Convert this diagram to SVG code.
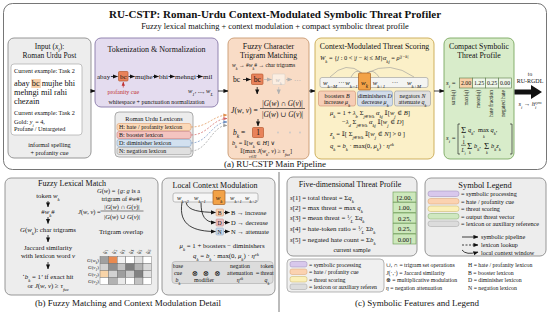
<svg xmlns="http://www.w3.org/2000/svg" width="550" height="312" viewBox="0 0 550 312">
<defs>
<style>
.f{font-family:"Liberation Serif","DejaVu Serif",serif;fill:#111}
.i{font-style:italic}
.c{text-anchor:middle}
.e{text-anchor:end}
.b{font-weight:bold}
.sb{baseline-shift:sub;font-size:72%}
.sp{baseline-shift:super;font-size:72%}
.box{stroke-width:0.9}
.gray{fill:#ededed;stroke:#8c8c8c}
.ln{fill:none;stroke:#111;stroke-width:0.8}
</style>
<marker id="ah" viewBox="0 0 6 6" refX="5.5" refY="3" markerWidth="5" markerHeight="5" orient="auto" markerUnits="userSpaceOnUse"><path d="M0,0.5 L6,3 L0,5.5z" fill="#111"/></marker>
<marker id="ahg" viewBox="0 0 6 6" refX="5.5" refY="3" markerWidth="5" markerHeight="5" orient="auto" markerUnits="userSpaceOnUse"><path d="M0,0.5 L6,3 L0,5.5z" fill="#b0b0b0"/></marker>
<marker id="ahr" viewBox="0 0 6 6" refX="5.5" refY="3" markerWidth="4" markerHeight="4" orient="auto" markerUnits="userSpaceOnUse"><path d="M0,0.5 L6,3 L0,5.5z" fill="#c03030"/></marker>
<marker id="ahO" viewBox="0 0 6 6" refX="5.5" refY="3" markerWidth="4" markerHeight="4" orient="auto" markerUnits="userSpaceOnUse"><path d="M0,0.5 L6,3 L0,5.5z" fill="#e0904f"/></marker>
<marker id="ahR" viewBox="0 0 6 6" refX="5.5" refY="3" markerWidth="4" markerHeight="4" orient="auto" markerUnits="userSpaceOnUse"><path d="M0,0.5 L6,3 L0,5.5z" fill="#d06464"/></marker>
<marker id="ahB" viewBox="0 0 6 6" refX="5.5" refY="3" markerWidth="4" markerHeight="4" orient="auto" markerUnits="userSpaceOnUse"><path d="M0,0.5 L6,3 L0,5.5z" fill="#6f8fc0"/></marker>
<marker id="ahN" viewBox="0 0 6 6" refX="5.5" refY="3" markerWidth="4" markerHeight="4" orient="auto" markerUnits="userSpaceOnUse"><path d="M0,0.5 L6,3 L0,5.5z" fill="#9a9a9a"/></marker>
</defs>
<rect width="550" height="312" fill="#fff"/>

<!-- top panel frame -->
<rect x="3.5" y="3.5" width="543" height="166" rx="9" fill="#fff" stroke="#666" stroke-width="0.9"/>
<text x="275" y="18" class="f c b" font-size="11">RU-CSTP: Roman-Urdu Context-Modulated Symbolic Threat Profiler</text>
<text x="275" y="28.5" class="f c" font-size="8.4">Fuzzy lexical matching + context modulation + compact symbolic threat profile</text>

<!-- Input -->
<g id="input">
<rect x="8" y="38" width="83" height="120" rx="6" class="box gray"/>
<text x="49.5" y="49" class="f c" font-size="7.5">Input (<tspan class="i">x</tspan><tspan class="i sb">i</tspan>):</text>
<text x="49.5" y="58" class="f c" font-size="7.5">Roman Urdu Post</text>
<rect x="11" y="64" width="71" height="71" rx="3" fill="#fff" stroke="#aaa" stroke-width="0.7"/>
<text x="14" y="73" class="f" font-size="6.2">Current example: Task 2</text>
<rect x="31.3" y="79" width="9.5" height="9" fill="#f8cfa8"/>
<text x="14" y="86" class="f" font-size="8.3">abay bc mujhe bhi</text>
<text x="14" y="95" class="f" font-size="8.3">mehngi mil rahi</text>
<text x="14" y="104" class="f" font-size="8.3">chezain</text>
<text x="14" y="115" class="f" font-size="6.2">Current example: Task 2</text>
<text x="14" y="123.5" class="f" font-size="6.2">Gold: <tspan class="i">y</tspan><tspan class="i sb">i</tspan> = 4,</text>
<text x="14" y="131" class="f" font-size="6.2">Profane / Untargeted</text>
<text x="49.5" y="147" class="f c" font-size="6.2">informal spelling</text>
<text x="49.5" y="155" class="f c" font-size="6.2">+ profanity cue</text>
</g>

<!-- Tokenization -->
<g id="tokenize">
<rect x="95" y="38" width="123" height="69" rx="6" class="box" fill="#e4dcef" stroke="#8878a8"/>
<text x="156.5" y="52" class="f c" font-size="8">Tokenization &amp; Normalization</text>
<text x="97" y="79" class="f" font-size="7">abay</text>
<line x1="111" y1="76.5" x2="117.5" y2="76.5" class="ln" marker-end="url(#ah)"/>
<rect x="118.5" y="71.5" width="9.5" height="9.5" rx="1" fill="#e8825a" stroke="#b85a30" stroke-width="0.7"/>
<text x="123.3" y="79" class="f c" font-size="7">bc</text>
<line x1="128.5" y1="76.5" x2="134.5" y2="76.5" class="ln" marker-end="url(#ah)"/>
<text x="135" y="79" class="f" font-size="7">mujhe</text>
<line x1="153" y1="76.5" x2="158.5" y2="76.5" class="ln" marker-end="url(#ah)"/>
<text x="159" y="79" class="f" font-size="7">bhi</text>
<line x1="168.5" y1="76.5" x2="174.5" y2="76.5" class="ln" marker-end="url(#ah)"/>
<text x="175" y="79" class="f" font-size="7">mehngi</text>
<line x1="196.5" y1="76.5" x2="202.5" y2="76.5" class="ln" marker-end="url(#ah)"/>
<text x="203" y="79" class="f" font-size="7">mil</text>
<line x1="123.3" y1="87.5" x2="123.3" y2="82" stroke="#c03030" stroke-width="0.7" marker-end="url(#ahr)"/>
<text x="123.3" y="93.5" class="f c" font-size="6" style="fill:#c03030">profanity cue</text>
<text x="213" y="93" class="f e i" font-size="6.5">w<tspan class="sb">1</tspan>, ..., w<tspan class="sb">L</tspan></text>
<text x="156.5" y="103.5" class="f c" font-size="6">whitespace + punctuation normalization</text>
</g>

<!-- Lexicons -->
<g id="lexicons">
<rect x="115" y="112" width="78" height="45" rx="4" fill="#ececec" stroke="#999" stroke-width="0.8"/>
<text x="154" y="120.5" class="f c" font-size="6.3">Roman Urdu Lexicons</text>
<rect x="117" y="123.5" width="74" height="7" rx="2" fill="#fbd9b8" stroke="#e0a070" stroke-width="0.6"/>
<rect x="117" y="131.5" width="74" height="7" rx="2" fill="#f4c4c0" stroke="#d08080" stroke-width="0.6"/>
<rect x="117" y="139.5" width="74" height="7" rx="2" fill="#d2e0ef" stroke="#8aa8c8" stroke-width="0.6"/>
<rect x="117" y="147.5" width="74" height="7" rx="2" fill="#e0e0e0" stroke="#a0a0a0" stroke-width="0.6"/>
<text x="119" y="129" class="f" font-size="6">H: hate / profanity lexicon</text>
<text x="119" y="137" class="f" font-size="6">B: booster lexicon</text>
<text x="119" y="145" class="f" font-size="6">D: diminisher lexicon</text>
<text x="119" y="153" class="f" font-size="6">N: negation lexicon</text>
</g>

<!-- Fuzzy char trigram -->
<g id="fuzzy">
<rect x="228" y="38" width="81" height="121" rx="6" class="box" fill="#f9dcc6" stroke="#c89870"/>
<text x="268.5" y="48.5" class="f c" font-size="7.8">Fuzzy Character</text>
<text x="268.5" y="57.5" class="f c" font-size="7.8">Trigram Matching</text>
<text x="232" y="67" class="f" font-size="5.6"><tspan class="i">w</tspan><tspan class="i sb">k</tspan> → #<tspan class="i">w</tspan><tspan class="i sb">k</tspan># → char trigrams</text>
<text x="233" y="82" class="f" font-size="7.5">bc</text>
<line x1="243" y1="79.5" x2="250.5" y2="79.5" class="ln" marker-end="url(#ah)"/>
<rect x="251.5" y="74" width="11.5" height="10.5" rx="1" fill="#e8825a" stroke="#b85a30" stroke-width="0.7"/>
<text x="257.2" y="82" class="f c" font-size="7.5">bc</text>
<line x1="264" y1="79.5" x2="271.5" y2="79.5" stroke="#b8b8b8" stroke-width="0.8" marker-end="url(#ahg)"/>
<rect x="272.5" y="74" width="12.5" height="10.5" rx="1" fill="#fbeee2" stroke="#d8d0c8" stroke-width="0.6"/>
<text x="278.7" y="81.5" class="f c i" font-size="6.5" style="fill:#bbb">w<tspan class="sb">k</tspan></text>
<line x1="286" y1="79.5" x2="292" y2="79.5" stroke="#b8b8b8" stroke-width="0.8" marker-end="url(#ahg)"/>
<text x="294" y="81" class="f" font-size="7" style="fill:#aaa">…</text>
<line x1="257.2" y1="87" x2="257.2" y2="94" class="ln" marker-end="url(#ah)"/>
<line x1="278.7" y1="87" x2="278.7" y2="94" stroke="#c0c0c0" stroke-width="0.8" marker-end="url(#ahg)"/>
<text x="231" y="112.5" class="f i" font-size="7.5">J</text><text x="234.5" y="112.5" class="f" font-size="7.5">(<tspan class="i">w</tspan>, <tspan class="i">v</tspan>) =</text>
<text x="282.5" y="106" class="f c" font-size="7.3">|<tspan class="i">G</tspan>(<tspan class="i">w</tspan>) ∩ <tspan class="i">G</tspan>(<tspan class="i">v</tspan>)|</text>
<line x1="260" y1="108.5" x2="305" y2="108.5" stroke="#111" stroke-width="0.6"/>
<text x="282.5" y="116.5" class="f c" font-size="7.3">|<tspan class="i">G</tspan>(<tspan class="i">w</tspan>) ∪ <tspan class="i">G</tspan>(<tspan class="i">v</tspan>)|</text>
<line x1="258" y1="119" x2="258" y2="126" class="ln" marker-end="url(#ah)"/>
<text x="233" y="135" class="f" font-size="7.5"><tspan class="i">b</tspan><tspan class="i sb">k</tspan> =</text>
<rect x="252.5" y="127.5" width="11" height="10" rx="1" fill="#e8825a" stroke="#b85a30" stroke-width="0.7"/>
<text x="258" y="135.3" class="f c" font-size="7.5">1</text>
<circle cx="278" cy="132.5" r="0.9" fill="#c8c8c8"/>
<circle cx="290" cy="132.5" r="0.9" fill="#c8c8c8"/>
<circle cx="300" cy="132.5" r="0.9" fill="#c8c8c8"/>
<text x="232" y="144.5" class="f" font-size="6.2"><tspan class="i">b</tspan><tspan class="i sb">k</tspan> = 𝕀[<tspan class="i">w</tspan><tspan class="i sb">k</tspan> ∈ <tspan class="i">H</tspan>] ∨</text>
<text x="240" y="153" class="f" font-size="6.2">𝕀[max <tspan class="i">J</tspan>(<tspan class="i">w</tspan><tspan class="i sb">k</tspan>, <tspan class="i">v</tspan>) ≥ <tspan class="i">τ</tspan><tspan class="i sb">fuz</tspan>]</text>
<text x="249" y="157.8" class="f i" font-size="3.8">v∈H</text>
</g>

<!-- Context scoring -->
<g id="scoring">
<rect x="315" y="38" width="119" height="121" rx="6" class="box" fill="#fbf0c8" stroke="#c8a850"/>
<text x="374.5" y="49" class="f c" font-size="7.8">Context-Modulated Threat Scoring</text>
<text x="320" y="59.5" class="f" font-size="6.4"><tspan class="i">W</tspan><tspan class="i sb">k</tspan> = {<tspan class="i">j</tspan> : 0 &lt; |<tspan class="i">j</tspan> − <tspan class="i">k</tspan>| ≤ <tspan class="i">M</tspan>}</text>
<text x="383" y="59.5" class="f" font-size="6.4"><tspan class="i">α</tspan><tspan class="i sb">kj</tspan> = <tspan class="i">ρ</tspan><tspan class="sp i">|j−k|</tspan></text>
<path d="M330,77 Q346,60 362,73" fill="none" stroke="#999" stroke-width="0.6"/>
<path d="M351,77 Q356,68 361,73" fill="none" stroke="#999" stroke-width="0.6"/>
<path d="M367,73 Q373,68 379,77" fill="none" stroke="#999" stroke-width="0.6"/>
<path d="M367,73 Q390,60 414,77" fill="none" stroke="#999" stroke-width="0.6"/>
<rect x="320" y="77.5" width="108" height="10" rx="2" fill="#f4f4f2" stroke="#999" stroke-width="0.6"/>
<text x="330" y="85" class="f c i" font-size="6.8">w<tspan class="sb">k−M</tspan></text>
<text x="341.5" y="84.5" class="f c" font-size="6.5">···</text>
<text x="351.5" y="85" class="f c i" font-size="6.8">w<tspan class="sb">k−1</tspan></text>
<rect x="358.5" y="73" width="12" height="17" rx="1" fill="#f2a247" stroke="#a86020" stroke-width="0.7"/>
<text x="364.5" y="84.5" class="f c i" font-size="7">w<tspan class="sb">k</tspan></text>
<text x="379" y="85" class="f c i" font-size="6.8">w<tspan class="sb">k+1</tspan></text>
<text x="395" y="84.5" class="f c" font-size="6.5">···</text>
<text x="414" y="85" class="f c i" font-size="6.8">w<tspan class="sb">k+M</tspan></text>
<rect x="318.5" y="91" width="37" height="15" rx="2" fill="#f6cdb6" stroke="#d09070" stroke-width="0.6"/>
<text x="337" y="97.5" class="f c" font-size="6">boosters <tspan class="i">B</tspan></text>
<text x="337" y="104" class="f c" font-size="6">increase <tspan class="i">μ</tspan><tspan class="i sb">k</tspan></text>
<rect x="357.5" y="91" width="35" height="15" rx="2" fill="#d2dcea" stroke="#8aa0c0" stroke-width="0.6"/>
<text x="375" y="97.5" class="f c" font-size="6">diminishers <tspan class="i">D</tspan></text>
<text x="375" y="104" class="f c" font-size="6">decrease <tspan class="i">μ</tspan><tspan class="i sb">k</tspan></text>
<rect x="394.5" y="91" width="36" height="15" rx="2" fill="#e0e0e0" stroke="#999" stroke-width="0.6"/>
<text x="412.5" y="97.5" class="f c" font-size="6">negators <tspan class="i">N</tspan></text>
<text x="412.5" y="104" class="f c" font-size="6">attenuate <tspan class="i">q</tspan><tspan class="i sb">k</tspan></text>
<text x="330" y="115" class="f" font-size="6.6"><tspan class="i">μ</tspan><tspan class="i sb">k</tspan> = 1 + <tspan class="i">λ</tspan><tspan class="i sb">b</tspan> Σ<tspan class="i sb">j∈Wk</tspan> <tspan class="i">α</tspan><tspan class="i sb">kj</tspan> 𝕀[<tspan class="i">w</tspan><tspan class="i sb">j</tspan> ∈ <tspan class="i">B</tspan>]</text>
<text x="342" y="124" class="f" font-size="6.6">−<tspan class="i">λ</tspan><tspan class="i sb">d</tspan> Σ<tspan class="i sb">j∈Wk</tspan> <tspan class="i">α</tspan><tspan class="i sb">kj</tspan> 𝕀[<tspan class="i">w</tspan><tspan class="i sb">j</tspan> ∈ <tspan class="i">D</tspan>]</text>
<text x="330" y="136" class="f" font-size="6.6"><tspan class="i">z</tspan><tspan class="i sb">k</tspan> = 𝕀[ Σ<tspan class="i sb">j∈Wk</tspan> 𝕀[<tspan class="i">w</tspan><tspan class="i sb">j</tspan> ∈ <tspan class="i">N</tspan>] &gt; 0 ]</text>
<text x="330" y="148" class="f" font-size="6.6"><tspan class="i">q</tspan><tspan class="i sb">k</tspan> = <tspan class="i">b</tspan><tspan class="i sb">k</tspan> · max(0, <tspan class="i">μ</tspan><tspan class="i sb">k</tspan>) · <tspan class="i">η</tspan><tspan class="i sp">zk</tspan></text>
</g>

<!-- Compact profile -->
<g id="profile">
<rect x="444" y="38" width="70" height="121" rx="6" class="box" fill="#d8ecca" stroke="#7aa860"/>
<text x="479" y="48.5" class="f c" font-size="7.8">Compact Symbolic</text>
<text x="479" y="57.5" class="f c" font-size="7.8">Threat Profile</text>
<text x="446" y="85" class="f" font-size="6.8"><tspan class="i">s</tspan><tspan class="i sb">i</tspan> =</text>
<rect x="459.5" y="78" width="13" height="10" fill="#f8d0a8" stroke="#5a7a48" stroke-width="0.6"/>
<rect x="472.5" y="78" width="13" height="10" fill="#eef6e8" stroke="#5a7a48" stroke-width="0.6"/>
<rect x="485.5" y="78" width="13" height="10" fill="#eef6e8" stroke="#5a7a48" stroke-width="0.6"/>
<rect x="498.5" y="78" width="13" height="10" fill="#eef6e8" stroke="#5a7a48" stroke-width="0.6"/>
<text x="466" y="85.2" class="f c" font-size="5.8">2.00</text>
<text x="479" y="85.2" class="f c" font-size="5.8">1.25</text>
<text x="492" y="85.2" class="f c" font-size="5.8">0.25</text>
<text x="505" y="85.2" class="f c" font-size="5.8">0.00</text>
<text transform="translate(455,90) rotate(-90)" class="f e" font-size="5.4">sum(<tspan class="i">q</tspan>)</text>
<text transform="translate(467.5,90) rotate(-90)" class="f e" font-size="5.4">max(<tspan class="i">q</tspan>)</text>
<text transform="translate(480,90) rotate(-90)" class="f e" font-size="5.4">mean(<tspan class="i">q</tspan>)</text>
<text transform="translate(492.5,90) rotate(-90)" class="f e" font-size="5.4">hate fraction</text>
<text transform="translate(505,90) rotate(-90)" class="f e" font-size="5.4">negated hate</text>
<text x="446" y="140" class="f" font-size="6.8"><tspan class="i">s</tspan><tspan class="i sb">i</tspan> =</text>
<path d="M460,124 h-2 v30 h2" fill="none" stroke="#111" stroke-width="0.6"/>
<path d="M510,124 h2 v30 h-2" fill="none" stroke="#111" stroke-width="0.6"/>
<text x="461" y="133" class="f" font-size="9">Σ</text>
<text x="463" y="137.8" class="f i" font-size="4">k</text>
<text x="468" y="132" class="f" font-size="6.4"><tspan class="i">q</tspan><tspan class="i sb">k</tspan>,</text>
<text x="478" y="132" class="f" font-size="6.4">max <tspan class="i">q</tspan><tspan class="i sb">k</tspan>,</text>
<text x="483" y="137.5" class="f i" font-size="4">k</text>
<text x="463.5" y="143.5" class="f c" font-size="5.5">1</text>
<line x1="461" y1="145.3" x2="466" y2="145.3" stroke="#111" stroke-width="0.5"/>
<text x="463.5" y="151.5" class="f c i" font-size="5.5">L<tspan class="sb">i</tspan></text>
<text x="467" y="149" class="f" font-size="9">Σ</text>
<text x="469" y="153.8" class="f i" font-size="4">k</text>
<text x="474" y="148" class="f" font-size="6.4"><tspan class="i">b</tspan><tspan class="i sb">k</tspan>,</text>
<text x="484" y="149" class="f" font-size="9">Σ</text>
<text x="486" y="153.8" class="f i" font-size="4">k</text>
<text x="491" y="148" class="f" font-size="6.4"><tspan class="i">b</tspan><tspan class="i sb">k</tspan><tspan class="i">z</tspan><tspan class="i sb">k</tspan></text>
</g>

<g id="to-rurgdl">
<text x="530" y="76" class="f c" font-size="5.5">to</text>
<text x="530" y="83" class="f c" font-size="6">RU-RGDL</text>
<text x="530" y="106" class="f c" font-size="6.4"><tspan class="i">s</tspan><tspan class="i sb">i</tspan> → <tspan class="i">h</tspan><tspan class="i sb">i</tspan><tspan class="i sp" dx="-2">sym</tspan></text>
</g>

<!-- connectors top -->
<g id="connectors">
<line x1="91" y1="91" x2="95" y2="91" class="ln" stroke-width="1" marker-end="url(#ah)"/>
<line x1="218" y1="91" x2="228" y2="91" class="ln" stroke-width="1" marker-end="url(#ah)"/>
<line x1="309" y1="91" x2="315" y2="91" class="ln" stroke-width="1" marker-end="url(#ah)"/>
<line x1="434" y1="91" x2="444" y2="91" class="ln" stroke-width="1" marker-end="url(#ah)"/>
<path d="M514.5,89.5 H531 V85 L542,92 L531,99 V94.5 H514.5 Z" fill="#111"/>
<path d="M191,127 C208,127 212,116 227,115" fill="none" stroke="#e0904f" stroke-width="0.7" stroke-dasharray="2,1.5" marker-end="url(#ahO)"/>
<path d="M191,135 C208,135 212,119 227,118.5" fill="none" stroke="#d06464" stroke-width="0.7" stroke-dasharray="2,1.5" marker-end="url(#ahR)"/>
<path d="M191,143 C208,143 212,122 227,122" fill="none" stroke="#6f8fc0" stroke-width="0.7" stroke-dasharray="2,1.5" marker-end="url(#ahB)"/>
<path d="M191,151 C208,151 212,125 227,125.5" fill="none" stroke="#9a9a9a" stroke-width="0.7" stroke-dasharray="2,1.5" marker-end="url(#ahN)"/>
</g>
<text x="275" y="166.5" class="f c" font-size="9">(a) RU-CSTP Main Pipeline</text>

<!-- bottom separator -->
<line x1="279" y1="172" x2="279" y2="312" stroke="#555" stroke-width="0.8"/>

<!-- Fuzzy Lexical Match -->
<g id="fuzzy-lexical">
<rect x="5" y="178" width="153" height="117" rx="6" class="box gray"/>
<text x="72" y="186" class="f c" font-size="8">Fuzzy Lexical Match</text>
<text x="48" y="198" class="f c" font-size="6.8">token <tspan class="i">w</tspan><tspan class="i sb">k</tspan></text>
<line x1="48" y1="201" x2="48" y2="207" class="ln" marker-end="url(#ah)"/>
<text x="48" y="214" class="f c" font-size="6.8">#<tspan class="i">w</tspan><tspan class="i sb">k</tspan>#</text>
<line x1="48" y1="217" x2="48" y2="223.5" class="ln" marker-end="url(#ah)"/>
<text x="48" y="231.5" class="f c" font-size="6.8"><tspan class="i">G</tspan>(<tspan class="i">w</tspan><tspan class="i sb">k</tspan>): char trigrams</text>
<line x1="48" y1="235" x2="48" y2="242" class="ln" marker-end="url(#ah)"/>
<text x="48" y="250" class="f c" font-size="6.8">Jaccard similarity</text>
<text x="48" y="258" class="f c" font-size="6.8">with lexicon word <tspan class="i">v</tspan></text>
<line x1="48" y1="262" x2="48" y2="269" class="ln" marker-end="url(#ah)"/>
<text x="48" y="278.5" class="f c" font-size="6.8">‘<tspan class="i">b</tspan><tspan class="i sb">k</tspan> = 1’ if exact hit</text>
<text x="48" y="287.5" class="f c" font-size="6.8">or <tspan class="i">J</tspan>(<tspan class="i">w</tspan>, <tspan class="i">v</tspan>) ≥ <tspan class="i">τ</tspan><tspan class="i sb">fuz</tspan></text>
<text x="97" y="193" class="f" font-size="6.4"><tspan class="i">G</tspan>(<tspan class="i">w</tspan>) = {<tspan class="i">g</tspan>: <tspan class="i">g</tspan> is a</text>
<text x="122" y="200.5" class="f c" font-size="6.4">trigram of #<tspan class="i">w</tspan>#}</text>
<text x="78" y="214" class="f" font-size="6.4"><tspan class="i">J</tspan>(<tspan class="i">w</tspan>, <tspan class="i">v</tspan>) =</text>
<text x="122" y="208.5" class="f c" font-size="6.4">|<tspan class="i">G</tspan>(<tspan class="i">w</tspan>) ∩ <tspan class="i">G</tspan>(<tspan class="i">v</tspan>)|</text>
<line x1="100.5" y1="211" x2="143.5" y2="211" stroke="#111" stroke-width="0.5"/>
<text x="122" y="218.5" class="f c" font-size="6.4">|<tspan class="i">G</tspan>(<tspan class="i">w</tspan>) ∪ <tspan class="i">G</tspan>(<tspan class="i">v</tspan>)|</text>
<text x="121" y="234" class="f c" font-size="6.8">Trigram overlap</text>
<g font-size="5">
<text transform="translate(106,254) rotate(-90)" class="f i">ĝ<tspan class="sb">1</tspan></text>
<text transform="translate(114.6,254) rotate(-90)" class="f i">ĝ<tspan class="sb">2</tspan></text>
<text transform="translate(123.2,254) rotate(-90)" class="f i">ĝ<tspan class="sb">3</tspan></text>
<text transform="translate(131.8,254) rotate(-90)" class="f i">ĝ<tspan class="sb">4</tspan></text>
<text transform="translate(140.4,254) rotate(-90)" class="f i">ĝ<tspan class="sb">5</tspan></text>
<text transform="translate(149,254) rotate(-90)" class="f i">ĝ<tspan class="sb">6</tspan></text>
</g>
<text x="99" y="261.5" class="f e" font-size="5"><tspan class="i">G</tspan>(<tspan class="i">w</tspan><tspan class="i sb">k</tspan>)</text>
<text x="99" y="268.5" class="f e" font-size="5"><tspan class="i">G</tspan>(<tspan class="i">v</tspan><tspan class="i sb">1</tspan>)</text>
<text x="99" y="275.5" class="f e" font-size="5"><tspan class="i">G</tspan>(<tspan class="i">v</tspan><tspan class="i sb">2</tspan>)</text>
<text x="99" y="282.5" class="f e" font-size="5"><tspan class="i">G</tspan>(<tspan class="i">v</tspan><tspan class="i sb">3</tspan>)</text>
<g stroke="#666" stroke-width="0.4">
<rect x="100" y="256.5" width="8.6" height="7" fill="#a0a0a0"/>
<rect x="108.6" y="256.5" width="8.6" height="7" fill="#e98a50"/>
<rect x="117.2" y="256.5" width="8.6" height="7" fill="#f2f2f2"/>
<rect x="125.8" y="256.5" width="8.6" height="7" fill="#ffffff"/>
<rect x="134.4" y="256.5" width="8.6" height="7" fill="#e2e2e2"/>
<rect x="143" y="256.5" width="8.6" height="7" fill="#ffffff"/>
<rect x="100" y="263.5" width="8.6" height="7" fill="#d2d2d2"/>
<rect x="108.6" y="263.5" width="8.6" height="7" fill="#8e8e8e"/>
<rect x="117.2" y="263.5" width="8.6" height="7" fill="#c4c4c4"/>
<rect x="125.8" y="263.5" width="8.6" height="7" fill="#7e7e7e"/>
<rect x="134.4" y="263.5" width="8.6" height="7" fill="#b2b2b2"/>
<rect x="143" y="263.5" width="8.6" height="7" fill="#dadada"/>
<rect x="100" y="270.5" width="8.6" height="7" fill="#f8d4a8"/>
<rect x="108.6" y="270.5" width="8.6" height="7" fill="#d2d2d2"/>
<rect x="117.2" y="270.5" width="8.6" height="7" fill="#9e9e9e"/>
<rect x="125.8" y="270.5" width="8.6" height="7" fill="#cacaca"/>
<rect x="134.4" y="270.5" width="8.6" height="7" fill="#828282"/>
<rect x="143" y="270.5" width="8.6" height="7" fill="#e2e2e2"/>
<rect x="100" y="277.5" width="8.6" height="7" fill="#ffffff"/>
<rect x="108.6" y="277.5" width="8.6" height="7" fill="#b2b2b2"/>
<rect x="117.2" y="277.5" width="8.6" height="7" fill="#eaeaea"/>
<rect x="125.8" y="277.5" width="8.6" height="7" fill="#ffffff"/>
<rect x="134.4" y="277.5" width="8.6" height="7" fill="#c2c2c2"/>
<rect x="143" y="277.5" width="8.6" height="7" fill="#ffffff"/>
</g>
</g>

<!-- Local Context Modulation -->
<g id="local-context">
<rect x="162" y="178" width="113" height="117" rx="6" class="box gray"/>
<text x="215" y="187.5" class="f c" font-size="8">Local Context Modulation</text>
<rect x="173" y="193" width="85" height="9" rx="2" fill="#f6f6f6" stroke="#999" stroke-width="0.6"/>
<text x="183" y="199.8" class="f c i" font-size="6.5">w<tspan class="sb">k−2</tspan></text>
<text x="200" y="199.8" class="f c i" font-size="6.5">w<tspan class="sb">k−1</tspan></text>
<rect x="213" y="190.5" width="12" height="14" rx="1" fill="#f2a247" stroke="#a86020" stroke-width="0.7"/>
<text x="219" y="200" class="f c i" font-size="6.8">w<tspan class="sb">k</tspan></text>
<text x="236" y="199.8" class="f c i" font-size="6.5">w<tspan class="sb">k+1</tspan></text>
<text x="251" y="199.8" class="f c i" font-size="6.5">w<tspan class="sb">k+2</tspan></text>
<path d="M186,202.5 C188,211 200,212 215.5,212.5" class="ln" stroke-width="0.7" marker-end="url(#ah)"/>
<path d="M201,202.5 C201,216 205,222.5 215.5,222.5" class="ln" stroke-width="0.7" marker-end="url(#ah)"/>
<path d="M182,202.5 C178,226 195,231.5 215.5,231.5" class="ln" stroke-width="0.7" marker-end="url(#ah)"/>
<rect x="216" y="209" width="7.5" height="7" rx="1" fill="#f8d0b0" stroke="#d09070" stroke-width="0.5"/>
<rect x="216" y="219" width="7.5" height="7" rx="1" fill="#ecc0c0" stroke="#c08080" stroke-width="0.5"/>
<rect x="216" y="228" width="7.5" height="7" rx="1" fill="#c8d8ea" stroke="#8aa0c0" stroke-width="0.5"/>
<text x="219.7" y="214.8" class="f c" font-size="5.8">B</text>
<text x="219.7" y="224.8" class="f c" font-size="5.8">D</text>
<text x="219.7" y="233.8" class="f c" font-size="5.8">N</text>
<line x1="224" y1="212.5" x2="229.5" y2="212.5" class="ln" stroke-width="0.6" marker-end="url(#ah)"/>
<line x1="224" y1="222.5" x2="229.5" y2="222.5" class="ln" stroke-width="0.6" marker-end="url(#ah)"/>
<line x1="224" y1="231.5" x2="229.5" y2="231.5" class="ln" stroke-width="0.6" marker-end="url(#ah)"/>
<text x="231" y="214.7" class="f" font-size="6.5">B → increase</text>
<text x="231" y="224.7" class="f" font-size="6.5">D → decrease</text>
<text x="231" y="233.7" class="f" font-size="6.5">N → attenuate</text>
<text x="222" y="248" class="f c" font-size="6.8"><tspan class="i">μ</tspan><tspan class="i sb">k</tspan> = 1 + boosters − diminishers</text>
<text x="226" y="258" class="f c" font-size="6.8"><tspan class="i">q</tspan><tspan class="i sb">k</tspan> = <tspan class="i">b</tspan><tspan class="i sb">k</tspan> · max(0, <tspan class="i">μ</tspan><tspan class="i sb">k</tspan>) · <tspan class="i">η</tspan><tspan class="i sp">zk</tspan></text>
<rect x="172" y="261.5" width="101" height="22" rx="3" fill="#dcdcdc" stroke="#aaa" stroke-width="0.6"/>
<text x="178" y="267.5" class="f c" font-size="5.8">base</text>
<text x="178" y="274.5" class="f c" font-size="5.8">cue</text>
<text x="178" y="281.5" class="f c i" font-size="5.8">b<tspan class="sb">k</tspan></text>
<text x="195" y="276" class="f c" font-size="7.5">⊗</text>
<text x="206" y="276" class="f c" font-size="7.5">⊗</text>
<text x="217.5" y="276" class="f c" font-size="7.5">⊗</text>
<text x="204" y="281.8" class="f c" font-size="5.8">modifier</text>
<text x="240" y="267.5" class="f c" font-size="5.8">negation</text>
<text x="240" y="274.5" class="f c" font-size="5.8">attenuation</text>
<text x="240" y="281.5" class="f c i" font-size="5.8">η<tspan class="sp">zk</tspan></text>
<text x="257.5" y="275" class="f c" font-size="6.5">=</text>
<text x="267" y="267.5" class="f c" font-size="5.8">token</text>
<text x="267" y="274.5" class="f c" font-size="5.8">threat</text>
<text x="267" y="281.5" class="f c i" font-size="5.8">q<tspan class="sb">k</tspan></text>
</g>
<text x="128" y="306" class="f c" font-size="9">(b) Fuzzy Matching and Context Modulation Detail</text>

<!-- Five-dim profile -->
<g id="five-dim">
<rect x="287" y="177" width="130" height="79" rx="6" class="box gray"/>
<text x="350" y="187" class="f c" font-size="8">Five-dimensional Threat Profile</text>
<text x="290" y="199.5" class="f" font-size="6.8"><tspan class="i">s</tspan>[1] = total threat = Σ<tspan class="i">q</tspan><tspan class="i sb">k</tspan></text>
<text x="290" y="209.5" class="f" font-size="6.8"><tspan class="i">s</tspan>[2] = max threat = max <tspan class="i">q</tspan><tspan class="i sb">k</tspan></text>
<text x="290" y="219.5" class="f" font-size="6.8"><tspan class="i">s</tspan>[3] = mean threat = <tspan class="sp">1</tspan>⁄<tspan class="i sb">L</tspan> Σ<tspan class="i">q</tspan><tspan class="i sb">k</tspan></text>
<text x="290" y="230.5" class="f" font-size="6.8"><tspan class="i">s</tspan>[4] = hate-token ratio = <tspan class="sp">1</tspan>⁄<tspan class="i sb">L</tspan> Σ<tspan class="i">b</tspan><tspan class="i sb">k</tspan></text>
<text x="290" y="241.5" class="f" font-size="6.8"><tspan class="i">s</tspan>[5] = negated hate count = Σ<tspan class="i">b</tspan><tspan class="i sb">k</tspan></text>
<g stroke="#6a9a50" stroke-width="0.6" fill="#cde8bc">
<rect x="393" y="192" width="23" height="10"/>
<rect x="393" y="202.5" width="23" height="10"/>
<rect x="393" y="213" width="23" height="10"/>
<rect x="393" y="223.5" width="23" height="10"/>
<rect x="393" y="234" width="23" height="10"/>
</g>
<text x="404.5" y="199.5" class="f c" font-size="6.6">[2.00,</text>
<text x="404.5" y="210" class="f c" font-size="6.6">1.00,</text>
<text x="404.5" y="220.5" class="f c" font-size="6.6">0.25,</text>
<text x="404.5" y="231" class="f c" font-size="6.6">0.25,</text>
<text x="404.5" y="241.5" class="f c" font-size="6.6">0.00]</text>
<text x="352" y="251.5" class="f c" font-size="6.3">current sample</text>
</g>

<!-- colour legend box -->
<g id="color-legend">
<rect x="287" y="259" width="97" height="33" rx="4" fill="#f0f0f0" stroke="#999" stroke-width="0.7"/>
<rect x="290" y="261.5" width="17" height="5.5" rx="2" fill="#d8c8ec" stroke="#9a88b8" stroke-width="0.5"/>
<rect x="290" y="269" width="17" height="5.5" rx="2" fill="#fbd2b0" stroke="#d8a070" stroke-width="0.5"/>
<rect x="290" y="276.5" width="17" height="5.5" rx="2" fill="#fbf0b8" stroke="#c8b060" stroke-width="0.5"/>
<rect x="290" y="284" width="17" height="5.5" rx="2" fill="#dcdcdc" stroke="#a0a0a0" stroke-width="0.5"/>
<text x="309" y="266.5" class="f" font-size="5.8">= symbolic processing</text>
<text x="309" y="274" class="f" font-size="5.8">= hate / profanity cue</text>
<text x="309" y="281.5" class="f" font-size="5.8">= threat scoring</text>
<text x="309" y="289" class="f" font-size="5.8">= lexicon or auxiliary referen</text>
</g>
<g id="notation">
<text x="386" y="267" class="f" font-size="5.8">∪, ∩ = trigram set operations</text>
<text x="386" y="274.5" class="f" font-size="5.8"><tspan class="i">J</tspan>(·,·) = Jaccard similarity</text>
<text x="386" y="282" class="f" font-size="5.8">⊗ = multiplicative modulation</text>
<text x="386" y="289.5" class="f" font-size="5.8"><tspan class="i">η</tspan> = negation attenuation</text>
<text x="468" y="267" class="f" font-size="5.8">H = hate / profanity lexicon</text>
<text x="468" y="274.5" class="f" font-size="5.8">B = booster lexicon</text>
<text x="468" y="282" class="f" font-size="5.8">D = diminisher lexicon</text>
<text x="468" y="289.5" class="f" font-size="5.8">N = negation lexicon</text>
</g>

<!-- Symbol legend -->
<g id="symbol-legend">
<rect x="425" y="178" width="121" height="78" rx="6" class="box gray"/>
<text x="485" y="188" class="f c" font-size="8.4">Symbol Legend</text>
<rect x="428" y="191" width="31" height="5.5" rx="2.5" fill="#d8c8ec" stroke="#9a88b8" stroke-width="0.5"/>
<rect x="428" y="198.5" width="31" height="5.5" rx="2.5" fill="#fbd2b0" stroke="#d8a070" stroke-width="0.5"/>
<rect x="428" y="206" width="31" height="5.5" rx="2.5" fill="#fbf0b8" stroke="#c8b060" stroke-width="0.5"/>
<rect x="428" y="213.5" width="31" height="5.5" rx="2.5" fill="#cfe8c0" stroke="#80a868" stroke-width="0.5"/>
<rect x="428" y="221" width="31" height="5.5" rx="2.5" fill="#dcdcdc" stroke="#a0a0a0" stroke-width="0.5"/>
<text x="461" y="196" class="f" font-size="6.2">= symbolic processing</text>
<text x="461" y="203.5" class="f" font-size="6.2">= hate / profanity cue</text>
<text x="461" y="211" class="f" font-size="6.2">= threat scoring</text>
<text x="461" y="218.5" class="f" font-size="6.2">= output threat vector</text>
<text x="461" y="226" class="f" font-size="6.2">= lexicon or auxiliary reference</text>
<line x1="462" y1="237" x2="478" y2="237" class="ln" marker-end="url(#ah)"/>
<text x="481" y="239" class="f" font-size="6.2">symbolic pipeline</text>
<line x1="462" y1="245" x2="478" y2="245" class="ln" stroke-dasharray="2,1.5" marker-end="url(#ah)"/>
<text x="481" y="247" class="f" font-size="6.2">lexicon lookup</text>
<path d="M462,250 Q466,255.5 478,252" class="ln" marker-end="url(#ah)"/>
<text x="481" y="254.5" class="f" font-size="6.2">local context window</text>
</g>
<text x="417" y="306" class="f c" font-size="9">(c) Symbolic Features and Legend</text>
</svg>
